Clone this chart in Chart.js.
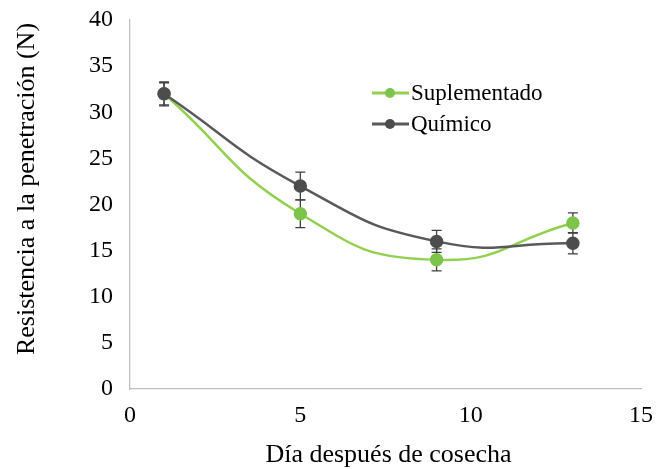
<!DOCTYPE html>
<html>
<head>
<meta charset="utf-8">
<script src="https://cdn.jsdelivr.net/npm/chart.js@4/dist/chart.umd.min.js"></script>
<style>
  html, body { margin: 0; padding: 0; background: #ffffff; }
  #wrap { width: 660px; height: 469px; position: relative; }
</style>
</head>
<body>
<div id="wrap"><canvas id="c"></canvas></div>
<script>
// Días después de cosecha
const dias = [1, 5, 9, 13];
// Resistencia a la penetración (N)
const suplementado = [32, 19, 14, 18];
const quimico = [32, 22, 16, 15.8];
// Error estándar de cada media
const errSuplementado = [1.2, 1.5, 1.2, 1.1];
const errQuimico = [1.3, 1.5, 1.2, 1.15];
// Marcas de los ejes
const xTicks = [0, 5, 10, 15];
const yTicks = [0, 5, 10, 15, 20, 25, 30, 35, 40];

const titleX = 'Día después de cosecha';
const titleY = 'Resistencia a la penetración (N)';

const VERDE = '#92d050';
const VERDE_MARCA = '#7cc44a';
const GRIS = '#595959';
const GRIS_MARCA = '#4d4d4d';
const SERIF = '"Liberation Serif", "Times New Roman", serif';

const toPoints = (ys) => dias.map((d, i) => ({ x: d, y: ys[i] }));

// Barras de error verticales con remates
const errorBars = {
  id: 'errorBars',
  beforeDatasetsDraw(chart) {
    const { ctx, scales: { x, y } } = chart;
    const sets = [errSuplementado, errQuimico];
    ctx.save();
    ctx.strokeStyle = '#404040';
    ctx.lineWidth = 1.3;
    chart.data.datasets.forEach((ds, k) => {
      const err = sets[k];
      ds.data.forEach((p, i) => {
        const px = x.getPixelForValue(p.x);
        const top = y.getPixelForValue(p.y + err[i]);
        const bot = y.getPixelForValue(p.y - err[i]);
        ctx.beginPath();
        ctx.moveTo(px, top); ctx.lineTo(px, bot);
        ctx.moveTo(px - 5, top); ctx.lineTo(px + 5, top);
        ctx.moveTo(px - 5, bot); ctx.lineTo(px + 5, bot);
        ctx.stroke();
      });
    });
    ctx.restore();
  }
};

// Títulos de ejes y leyenda interior
const decor = {
  id: 'decor',
  afterDraw(chart) {
    const { ctx, chartArea: a } = chart;
    ctx.save();
    ctx.fillStyle = '#000000';
    ctx.font = '26px ' + SERIF;
    ctx.textAlign = 'center';
    ctx.textBaseline = 'middle';
    ctx.fillText(titleX, (a.left + a.right) / 2 + 3, 455);
    ctx.translate(27, 189);
    ctx.rotate(-Math.PI / 2);
    ctx.fillText(titleY, 0, 0);
    ctx.restore();

    // leyenda
    ctx.save();
    ctx.font = '23px ' + SERIF;
    ctx.textAlign = 'left';
    ctx.textBaseline = 'middle';
    const items = [
      { label: chart.data.datasets[0].label, line: VERDE, dot: VERDE_MARCA, y: 93 },
      { label: chart.data.datasets[1].label, line: GRIS, dot: GRIS_MARCA, y: 124 }
    ];
    items.forEach(it => {
      ctx.strokeStyle = it.line;
      ctx.lineWidth = 3;
      ctx.beginPath();
      ctx.moveTo(372, it.y); ctx.lineTo(409, it.y);
      ctx.stroke();
      ctx.fillStyle = it.dot;
      ctx.beginPath();
      ctx.arc(390, it.y, 5, 0, Math.PI * 2);
      ctx.fill();
      ctx.fillStyle = '#000000';
      ctx.fillText(it.label, 411, it.y + 1);
    });
    ctx.restore();
  }
};

new Chart(document.getElementById('c'), {
  type: 'line',
  data: {
    datasets: [
      {
        label: 'Suplementado',
        data: toPoints(suplementado),
        borderColor: VERDE,
        backgroundColor: VERDE_MARCA,
        pointBackgroundColor: VERDE_MARCA,
        pointBorderColor: VERDE_MARCA,
        pointRadius: 5.5,
        borderWidth: 2.5,
        tension: 0.5,
        order: 1
      },
      {
        label: 'Químico',
        data: toPoints(quimico),
        borderColor: GRIS,
        backgroundColor: GRIS_MARCA,
        pointBackgroundColor: GRIS_MARCA,
        pointBorderColor: GRIS_MARCA,
        pointRadius: 5.5,
        borderWidth: 2.5,
        tension: 0.5,
        order: 0
      }
    ]
  },
  options: {
    responsive: true,
    maintainAspectRatio: false,
    animation: false,
    layout: { padding: { left: 0, right: 19, top: 20, bottom: 0 } },
    plugins: { legend: { display: false }, tooltip: { enabled: false } },
    scales: {
      x: {
        type: 'linear',
        min: 0, max: 15,
        afterBuildTicks: s => { s.ticks = xTicks.map(v => ({ value: v })); },
        afterFit: s => { s.height = 80; s.paddingLeft = 0; s.paddingRight = 0; },
        grid: { display: false, drawTicks: false },
        border: { display: true, color: '#bfbfbf', width: 1.3 },
        ticks: { padding: 12, color: '#000000', font: { family: SERIF, size: 24 } }
      },
      y: {
        type: 'linear',
        min: 0, max: 40,
        afterBuildTicks: s => { s.ticks = yTicks.map(v => ({ value: v })); },
        afterFit: s => { s.width = 130; s.paddingTop = 0; s.paddingBottom = 0; },
        grid: { display: false, drawTicks: false },
        border: { display: true, color: '#bfbfbf', width: 1.3 },
        ticks: { padding: 17, color: '#000000', font: { family: SERIF, size: 24 } }
      }
    }
  },
  plugins: [errorBars, decor]
});
</script>
</body>
</html>
